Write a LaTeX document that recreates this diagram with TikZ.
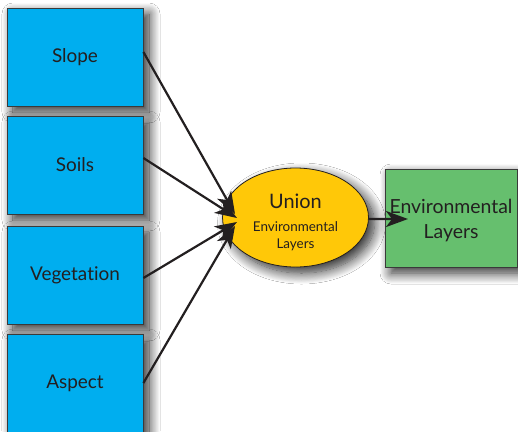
\documentclass[tikz,border=0pt]{standalone}
\usepackage{fontspec}
\setmainfont[Ligatures={NoCommon,NoRare}]{Lato}
\usetikzlibrary{shapes.geometric,arrows.meta,shadows.blur,calc}
\definecolor{boxblue}{HTML}{00AEEF}
\definecolor{unionyellow}{HTML}{FFC808}
\definecolor{outgreen}{HTML}{66BF6E}
\definecolor{inkdark}{HTML}{231F20}
\definecolor{edgegray}{HTML}{3A3A3A}
\tikzset{
  softshadow/.style={blur shadow={shadow xshift=6bp, shadow yshift=-6bp, shadow blur steps=14, shadow blur radius=11bp, shadow opacity=85}},
  inbox/.style={draw=edgegray, line width=0.8bp, fill=boxblue, minimum width=136bp, minimum height=98bp, inner sep=0pt, text=inkdark, font=\fontsize{19}{22}\selectfont, softshadow},
  outbox/.style={draw=edgegray, line width=0.8bp, fill=outgreen, minimum width=132bp, minimum height=98bp, inner sep=0pt, text=inkdark, align=center, font=\fontsize{19.5}{25}\selectfont, softshadow},
  unionnode/.style={ellipse, draw=inkdark, line width=0.8bp, fill=unionyellow, minimum width=146bp, minimum height=99bp, inner sep=0pt, text=inkdark, align=center, font=\fontsize{13.5}{17}\selectfont, softshadow},
  flow/.style={draw=inkdark, line width=2.2bp, -{Stealth[length=22bp, width=16bp, inset=6bp]}}
}
\begin{document}
\begin{tikzpicture}[x=1bp, y=-1bp]
\clip (0,0) rectangle (518,431);
\fill[white] (0,0) rectangle (518,431);
\node[inbox] (slope) at (75,57) {Slope};
\node[inbox] (soils) at (75,165) {Soils};
\node[inbox] (veg) at (75,275) {Vegetation};
\node[inbox] (aspect) at (75,383) {Aspect};
\node[unionnode] (union) at (295.5,217.5) {{\fontsize{20}{24}\selectfont\rule{0pt}{24bp}Union}\\[6bp]Environmental\\Layers};
\node[outbox] (out) at (451,218) {\rule{0pt}{20bp}Environmental\\Layers};
\coordinate (t1) at (235,214);
\coordinate (t2) at (237,218);
\coordinate (t3) at (237,222);
\coordinate (t4) at (235,226);
\coordinate (t5) at (408,219);
\draw[flow] ($(slope.east)+(0,-5)$) -- (t1);
\draw[flow] ($(soils.east)+(0,-7)$) -- (t2);
\draw[flow] ($(veg.east)+(0,3)$) -- (t3);
\draw[flow] (aspect.east) -- (t4);
\draw[flow] ($(union.east)+(0,1.5)$) -- (t5);
\end{tikzpicture}
\end{document}
